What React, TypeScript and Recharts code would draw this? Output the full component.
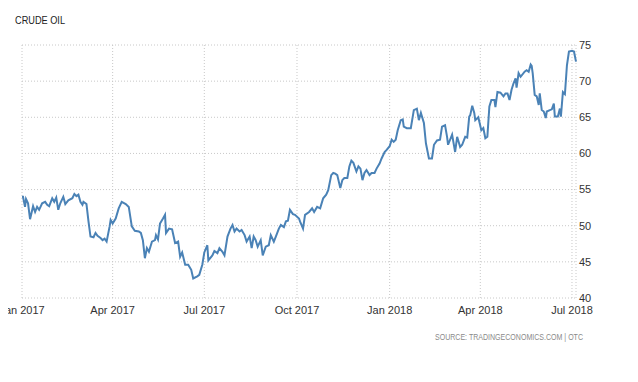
import React from "react";
import { LineChart, Line, XAxis, YAxis, CartesianGrid } from "recharts";

// days since 1 Jan 2017
const DAYS = [
  0, 1, 3, 4, 6, 8, 11, 13, 15, 17,
  20, 23, 25, 27, 30, 32, 34, 36, 38, 41,
  43, 46, 50, 52, 54, 56, 58, 60, 61, 64,
  66, 68, 71, 73, 75, 78, 80, 82, 84, 87,
  88, 90, 93, 96, 99, 103, 106, 109, 112, 116,
  118, 120, 122, 124, 126, 129, 132, 133, 135, 137,
  140, 142, 143, 146, 149, 152, 155, 157, 159, 162,
  165, 168, 170, 174, 176, 179, 181, 184, 185, 189,
  191, 194, 196, 199, 201, 204, 207, 209, 211, 213,
  216, 218, 221, 223, 226, 228, 230, 232, 234, 237,
  239, 242, 245, 247, 250, 252, 255, 257, 260, 262,
  264, 266, 269, 271, 275, 276, 279, 281, 285, 288,
  290, 293, 296, 299, 302, 304, 307, 309, 311, 313,
  316, 318, 320, 323, 325, 327, 329, 332, 334, 336,
  338, 340, 342, 345, 347, 350, 352, 355, 357, 360,
  362, 365, 367, 369, 371, 373, 376, 378, 379, 382,
  386, 389, 392, 394, 396, 399, 401, 404, 407, 409,
  412, 415, 417, 420, 422, 423, 427, 430, 432, 435,
  437, 440, 442, 444, 445, 447, 449, 450, 453, 456,
  458, 460, 462, 464, 466, 469, 470, 472, 475, 478,
  480, 482, 484, 486, 488, 490, 491, 493, 495, 499,
  501, 503, 505, 506, 507, 509, 511, 513, 514, 516,
  518, 520, 521, 524, 526, 528, 529, 532, 534, 535,
  537, 539, 541, 543, 546, 548, 550,
];

const PRICES = [
  54.0, 54.0, 52.6, 53.7, 53.1, 50.9, 52.7, 51.9, 52.6, 52.2,
  53.1, 53.3, 52.9, 52.7, 53.8, 53.3, 53.9, 52.2, 53.1, 54.0,
  53.0, 53.5, 53.8, 54.4, 54.1, 54.3, 53.3, 52.9, 53.3, 53.0,
  50.6, 48.5, 48.4, 49.0, 48.6, 48.3, 48.0, 48.2, 47.8, 49.9,
  50.8, 50.3, 51.0, 52.4, 53.3, 53.0, 52.6, 49.9, 49.3, 49.2,
  49.0, 48.0, 45.5, 46.9, 46.4, 47.8, 48.0, 48.7, 48.1, 50.3,
  51.0, 51.5, 49.0, 49.6, 49.5, 47.6, 47.8, 45.7, 46.3, 44.6,
  44.6, 43.9, 42.7, 43.0, 43.2, 44.6, 46.3, 47.3, 45.2, 45.9,
  46.5, 46.2, 46.9, 46.4, 45.9, 48.5, 49.6, 50.1, 49.2, 49.6,
  49.2, 49.4, 48.7, 47.8, 48.5, 46.9, 48.5, 48.0, 47.1, 48.0,
  45.9, 47.1, 47.3, 48.7, 47.8, 48.5, 49.6, 50.1, 49.8, 50.6,
  50.7, 52.2, 51.6, 51.5, 51.0, 50.6, 49.6, 51.5, 51.9, 52.4,
  51.9, 52.6, 52.4, 53.8, 54.3, 54.9, 57.0, 57.3, 57.2, 57.0,
  55.2, 56.3, 56.6, 56.6, 58.2, 59.0, 58.7, 57.5, 58.2, 57.9,
  56.3, 57.3, 57.7, 57.0, 57.3, 57.3, 57.9, 58.6, 59.3, 60.2,
  60.5, 61.0, 61.9, 61.6, 61.9, 63.2, 64.6, 64.7, 63.7, 63.5,
  63.5, 66.0, 66.2, 64.6, 65.6, 64.2, 61.4, 59.3, 59.3, 61.2,
  61.8, 61.9, 63.7, 63.9, 62.3, 61.2, 62.6, 60.2, 62.3, 60.9,
  61.2, 62.3, 62.2, 65.1, 65.3, 66.6, 65.6, 64.6, 65.0, 63.2,
  63.5, 62.1, 62.3, 66.5, 67.4, 67.4, 66.4, 68.5, 68.4, 67.9,
  68.3, 68.3, 67.4, 68.8, 69.7, 70.4, 69.1, 71.1, 70.6, 71.3,
  71.5, 71.3, 72.3, 72.1, 71.1, 68.1, 67.9, 66.7, 68.3, 66.0,
  65.8, 64.9, 65.8, 66.0, 66.1, 66.9, 65.1, 65.1, 66.2, 65.1,
  68.5, 68.2, 72.2, 74.1, 74.2, 74.1, 72.7,
];

const X_TICKS = [0, 90, 181, 273, 365, 455, 546];
const X_LABELS = ["Jan 2017", "Apr 2017", "Jul 2017", "Oct 2017", "Jan 2018", "Apr 2018", "Jul 2018"];
const Y_TICKS = [40, 45, 50, 55, 60, 65, 70, 75];

const data = DAYS.map((d, i) => ({ day: d, price: PRICES[i] }));

const FONT = "'Liberation Sans', Arial, sans-serif";

export default function App() {
  return (
    <div style={{ position: "relative", margin: -8, width: 638, height: 382, background: "#fff" }}>
      <LineChart width={638} height={382} data={data} margin={{ top: 45, right: 22, bottom: 54, left: 22 }}>
        <CartesianGrid stroke="#c8c8c8" strokeDasharray="1 2" />
        <XAxis
          dataKey="day"
          type="number"
          domain={[0, 550]}
          ticks={X_TICKS}
          interval={0}
          tickFormatter={(v: number) => X_LABELS[X_TICKS.indexOf(v)]}
          axisLine={false}
          tickLine={false}
          tickSize={4}
          tickMargin={4}
          height={30}
          tick={{ fontSize: 11, fill: "#333", fontFamily: FONT }}
        />
        <YAxis
          orientation="right"
          domain={[40, 75]}
          ticks={Y_TICKS}
          axisLine={false}
          tickLine={false}
          tickSize={0}
          tickMargin={3}
          width={40}
          tick={{ fontSize: 11, fill: "#333", fontFamily: FONT, textAnchor: "start" }}
        />
        <Line
          dataKey="price"
          stroke="#4a82b6"
          strokeWidth={2}
          dot={false}
          isAnimationActive={false}
        />
      </LineChart>
      <svg width={638} height={382} style={{ position: "absolute", left: 0, top: 0, pointerEvents: "none" }}>
        <text x={15} y={24} fontSize={11} fill="#222" fontFamily={FONT} textLength={50} lengthAdjust="spacingAndGlyphs">
          CRUDE OIL
        </text>
        <text x={435} y={340} fontSize={8.5} fill="#8a8a8a" fontFamily={FONT} textLength={148} lengthAdjust="spacingAndGlyphs">
          SOURCE: TRADINGECONOMICS.COM | OTC
        </text>
      </svg>
    </div>
  );
}
